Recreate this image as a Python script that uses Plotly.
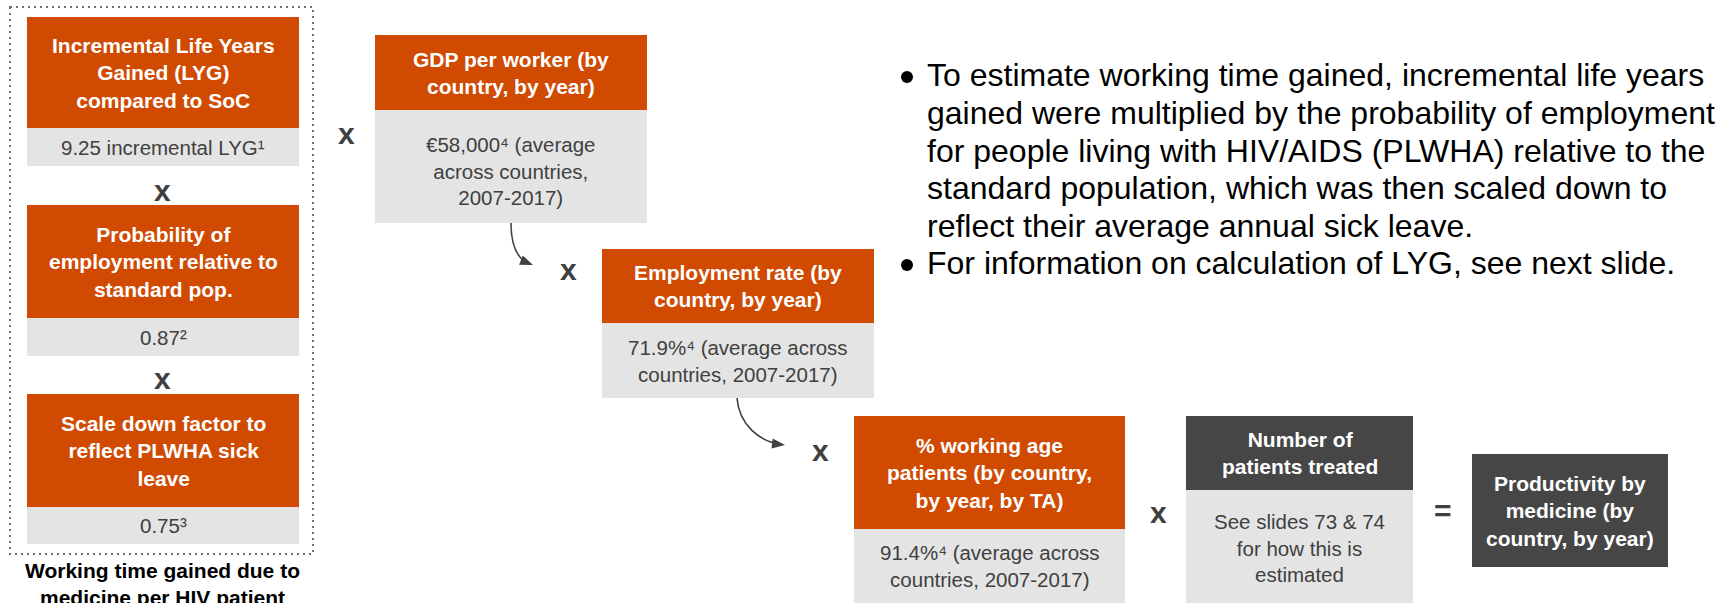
import plotly.graph_objects as go

W, H = 1735, 603
ORANGE = "#D04A02"
LIGHT = "#E4E4E4"
DARK = "#464646"
TXT = "#404040"
FONT = "Liberation Sans, Arial, sans-serif"

# ---- content ----
left_titles = ["Incremental Life Years<br>Gained (LYG)<br>compared to SoC",
               "Probability of<br>employment relative to<br>standard pop.",
               "Scale down factor to<br>reflect PLWHA sick<br>leave"]
left_values = ["9.25 incremental LYG¹", "0.87²", "0.75³"]
caption = "Working time gained due to<br>medicine per HIV patient"

chain_titles = ["GDP per worker (by<br>country, by year)",
                "Employment rate (by<br>country, by year)",
                "% working age<br>patients (by country,<br>by year, by TA)",
                "Number of<br>patients treated"]
chain_values = ["€58,000⁴ (average<br>across countries,<br>2007-2017)",
                "71.9%⁴ (average across<br>countries, 2007-2017)",
                "91.4%⁴ (average across<br>countries, 2007-2017)",
                "See slides 73 & 74<br>for how this is<br>estimated"]
result_title = "Productivity by<br>medicine (by<br>country, by year)"

bullet_lines = [
    ["To estimate working time gained, incremental life years",
     "gained were multiplied by the probability of employment",
     "for people living with HIV/AIDS (PLWHA) relative to the",
     "standard population, which was then scaled down to",
     "reflect their average annual sick leave."],
    ["For information on calculation of LYG, see next slide."],
]

# ---- layout geometry (pixels) ----
left_x = (27, 299)
left_title_y = [(17, 128), (205, 318), (394, 507)]
left_value_y = [(128, 166), (318, 356), (507, 544)]

chain_x = [(375, 647), (602, 874), (854, 1125), (1186, 1413)]
chain_title_y = [(35, 110), (249, 323), (416, 529), (416, 490)]
chain_value_y = [(110, 223), (323, 398), (529, 620), (490, 620)]
chain_value_text_y = [171, 361, 566, 548]
chain_title_fill = [ORANGE, ORANGE, ORANGE, DARK]

result_box = (1472, 1668, 454, 567)

ops = [("x", 162, 190), ("x", 162, 378), ("x", 346, 133), ("x", 568, 269),
       ("x", 820, 450), ("x", 1158, 512), ("=", 1443, 510)]

bullet_x = 907
text_x = 925
line_y = [[75, 113, 150.5, 188, 226], [263]]

shapes = []
annotations = []


def rect(x0, x1, y0, y1, fill):
    shapes.append(dict(type="rect", xref="x", yref="y", x0=x0, x1=x1, y0=y0, y1=y1,
                       fillcolor=fill, line=dict(width=0), layer="below"))


def label(text, x, y, size, color, bold=False, xanchor="center", align="center"):
    t = f"<b>{text}</b>" if bold else text
    annotations.append(dict(text=t, x=x, y=y, xref="x", yref="y", showarrow=False,
                            xanchor=xanchor, yanchor="middle", align=align,
                            font=dict(family=FONT, size=size, color=color)))


# dotted frame
shapes.append(dict(type="rect", xref="x", yref="y", x0=10, x1=313, y0=7, y1=554,
                   line=dict(color="#707070", width=2, dash="2px,4px"), fillcolor="rgba(0,0,0,0)"))

for t, v, ty, vy in zip(left_titles, left_values, left_title_y, left_value_y):
    rect(left_x[0], left_x[1], ty[0], ty[1], ORANGE)
    rect(left_x[0], left_x[1], vy[0], vy[1], LIGHT)
    label(t, sum(left_x) / 2, sum(ty) / 2, 21, "white", bold=True)
    label(v, sum(left_x) / 2, sum(vy) / 2, 20.5, TXT)

label(caption, 162, 584, 21, "black", bold=True)

for t, v, cx, ty, vy, vty, fill in zip(chain_titles, chain_values, chain_x, chain_title_y,
                                       chain_value_y, chain_value_text_y, chain_title_fill):
    rect(cx[0], cx[1], ty[0], ty[1], fill)
    rect(cx[0], cx[1], vy[0], vy[1], LIGHT)
    label(t, sum(cx) / 2, sum(ty) / 2, 21, "white", bold=True)
    label(v, sum(cx) / 2, vty, 20.5, TXT)

rect(result_box[0], result_box[1], result_box[2], result_box[3], DARK)
label(result_title, (result_box[0] + result_box[1]) / 2, (result_box[2] + result_box[3]) / 2,
      21, "white", bold=True)

for s, x, y in ops:
    label(s, x, y, 30, TXT, bold=True)

# curved arrows
arrows = [((511, 223), (511, 246), (518, 259), (533, 265)),
          ((737, 398), (739, 425), (760, 442), (785, 445))]
for p0, c1, c2, p1 in arrows:
    shapes.append(dict(type="path", xref="x", yref="y",
                       path=f"M {p0[0]},{p0[1]} C {c1[0]},{c1[1]} {c2[0]},{c2[1]} {p1[0] - 4},{p1[1] - 1}",
                       line=dict(color=TXT, width=1.6)))
    dx, dy = p1[0] - c2[0], p1[1] - c2[1]
    n = (dx * dx + dy * dy) ** 0.5
    ux, uy = dx / n, dy / n
    px, py = -uy, ux
    L, Wd = 13, 5
    bx, by = p1[0] - ux * L, p1[1] - uy * L
    shapes.append(dict(type="path", xref="x", yref="y",
                       path=f"M {p1[0]},{p1[1]} L {bx + px * Wd},{by + py * Wd} L {bx - px * Wd},{by - py * Wd} Z",
                       fillcolor=TXT, line=dict(width=0)))

# bullets
for lines, ys in zip(bullet_lines, line_y):
    shapes.append(dict(type="circle", xref="x", yref="y", x0=bullet_x - 6, x1=bullet_x + 6,
                       y0=ys[0] - 4, y1=ys[0] + 8, fillcolor="black", line=dict(width=0)))
    for ln, y in zip(lines, ys):
        label(ln, text_x, y, 32, "black", xanchor="left", align="left")

fig = go.Figure()
fig.update_layout(
    width=W, height=H, margin=dict(l=0, r=0, t=0, b=0),
    paper_bgcolor="white", plot_bgcolor="white",
    xaxis=dict(range=[0, W], visible=False, fixedrange=True),
    yaxis=dict(range=[H, 0], visible=False, fixedrange=True),
    shapes=shapes, annotations=annotations, showlegend=False,
)
fig.write_html("out.html", config={"displayModeBar": False},
               post_script="document.body.style.margin='0px';document.body.style.padding='0px';")
